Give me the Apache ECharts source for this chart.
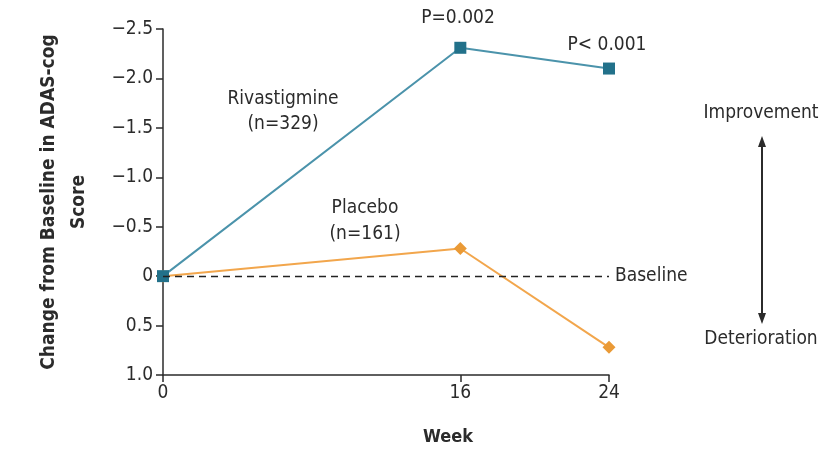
<!DOCTYPE html>
<html>
<head>
<meta charset="UTF-8">
<script src="https://cdn.jsdelivr.net/npm/echarts@6/dist/echarts.min.js"></script>
<style>
  html, body { margin: 0; padding: 0; background: #fff; }
  #chart { width: 825px; height: 449px; }
</style>
</head>
<body>
<div id="chart"></div>
<script>
const weeks = [0, 16, 24];
const rivastigmine = [0, -2.31, -2.1];
const placebo = [0, -0.28, 0.72];
const yTicks = [-2.5, -2.0, -1.5, -1.0, -0.5, 0, 0.5, 1.0];

const font = '"DejaVu Sans Condensed", "Liberation Sans Narrow", sans-serif';
const ink = '#2b2b2b';

const chart = echarts.init(document.getElementById('chart'));

// y axis runs upside down: negative change = improvement, at the top
const fmtY = v => v === 0 ? '0' : (v < 0 ? '\u2212' : '') + Math.abs(v).toFixed(1);

chart.setOption({
    backgroundColor: '#fff',
    animation: false,
    grid: { left: 163, right: 216, top: 29, bottom: 74 },
    xAxis: {
        type: 'value', min: 0, max: 24,
        axisLine: { onZero: false, lineStyle: { color: ink, width: 1.5 } },
        axisTick: { customValues: weeks, length: 7, lineStyle: { color: ink, width: 1.5 } },
        axisLabel: { customValues: weeks, color: ink, fontSize: 19, fontFamily: font, margin: 9 },
        splitLine: { show: false }
    },
    yAxis: {
        type: 'value', min: -2.5, max: 1.0, interval: 0.5, inverse: true,
        name: 'Change from Baseline in ADAS-cog\nScore',
        nameLocation: 'middle', nameRotate: 90, nameGap: 69,
        nameTextStyle: { color: ink, fontSize: 19, fontWeight: 'bold', fontFamily: font, lineHeight: 30 },
        axisLine: { show: true, onZero: false, lineStyle: { color: ink, width: 1.5 } },
        axisTick: { show: true, length: 7, lineStyle: { color: ink, width: 1.5 } },
        axisLabel: { color: ink, fontSize: 19, fontFamily: font, margin: 10, formatter: fmtY },
        splitLine: { show: false }
    },
    series: [
        {
            name: 'Placebo', type: 'line',
            data: weeks.map((w, i) => [w, placebo[i]]),
            symbol: 'diamond', symbolSize: 13,
            lineStyle: { color: '#f2a64c', width: 2 },
            itemStyle: { color: '#ea9a36' },
            markLine: {
                symbol: 'none', silent: true,
                lineStyle: { color: '#222', type: [7, 5], width: 1.3 },
                label: { position: 'end', formatter: 'Baseline', color: ink, fontSize: 19, fontFamily: font, distance: 6 },
                data: [{ yAxis: 0 }]
            }
        },
        {
            name: 'Rivastigmine', type: 'line',
            data: weeks.map((w, i) => [w, rivastigmine[i]]),
            symbol: 'rect', symbolSize: 12,
            lineStyle: { color: '#4b93ab', width: 2 },
            itemStyle: { color: '#22718a' }
        }
    ],
    graphic: [
        { type: 'text', x: 458, y: 18, style: { text: 'P=0.002', fill: ink, font: '19px ' + font, align: 'center', verticalAlign: 'middle' } },
        { type: 'text', x: 607, y: 45, style: { text: 'P< 0.001', fill: ink, font: '19px ' + font, align: 'center', verticalAlign: 'middle' } },
        { type: 'text', x: 283, y: 112, style: { text: 'Rivastigmine\n(n=329)', fill: ink, font: '19px ' + font, align: 'center', verticalAlign: 'middle', lineHeight: 25 } },
        { type: 'text', x: 365, y: 221, style: { text: 'Placebo\n(n=161)', fill: ink, font: '19px ' + font, align: 'center', verticalAlign: 'middle', lineHeight: 26 } },
        { type: 'text', x: 448, y: 437, style: { text: 'Week', fill: ink, font: 'bold 18px ' + font, align: 'center', verticalAlign: 'middle' } },
        { type: 'text', x: 761, y: 113, style: { text: 'Improvement', fill: ink, font: '19px ' + font, align: 'center', verticalAlign: 'middle' } },
        { type: 'text', x: 761, y: 339, style: { text: 'Deterioration', fill: ink, font: '19px ' + font, align: 'center', verticalAlign: 'middle' } },
        { type: 'line', shape: { x1: 762, y1: 142, x2: 762, y2: 318 }, style: { stroke: ink, lineWidth: 2 } },
        { type: 'polygon', shape: { points: [[762, 136], [758, 147], [766, 147]] }, style: { fill: ink } },
        { type: 'polygon', shape: { points: [[762, 324], [758, 313], [766, 313]] }, style: { fill: ink } }
    ]
});
</script>
</body>
</html>
